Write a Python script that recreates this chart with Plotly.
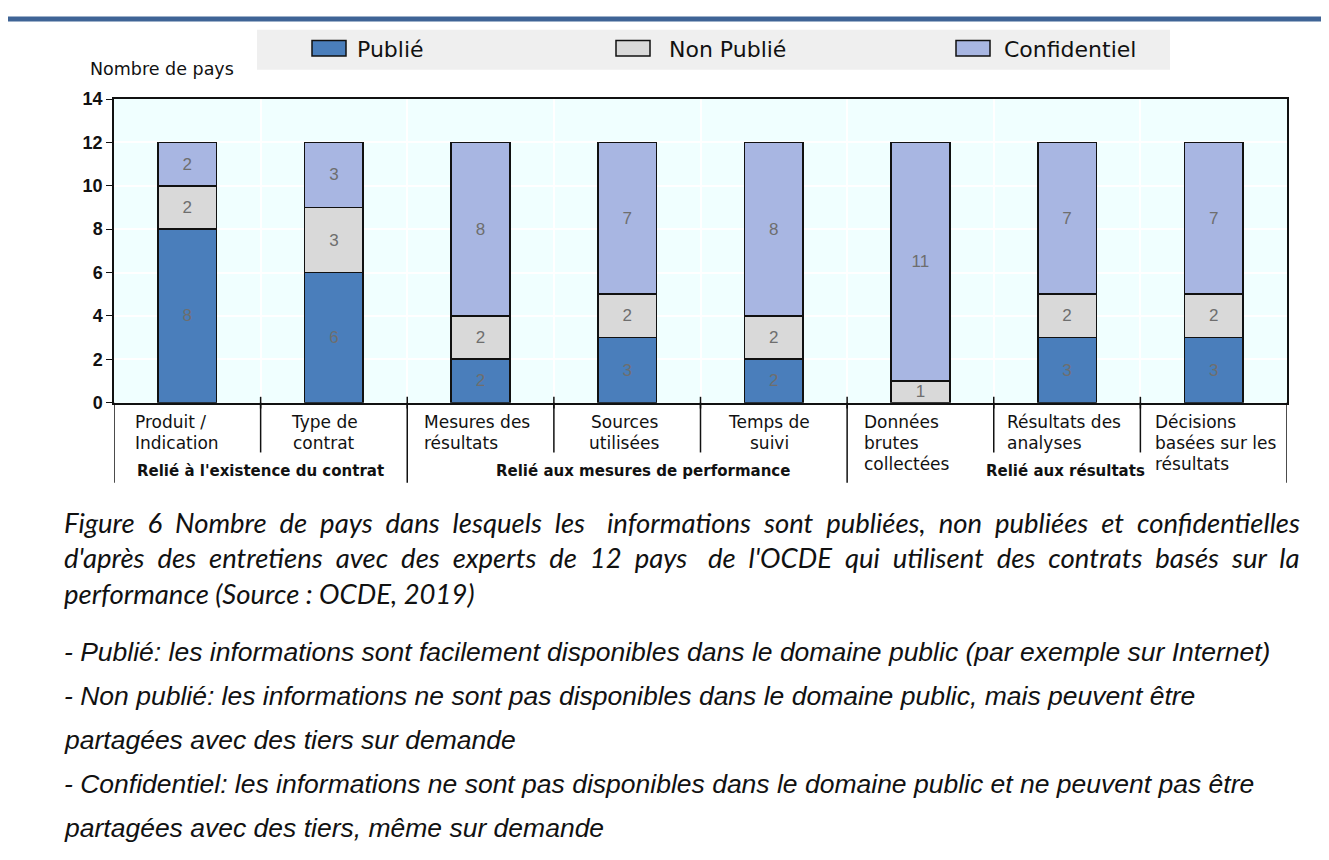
import plotly.graph_objects as go

# The page adds an 8px body margin, so the figure is sized to fit the window exactly
W, H = 1313, 844
OFF = 8

categories = ["Produit / Indication", "Type de contrat", "Mesures des résultats",
              "Sources utilisées", "Temps de suivi", "Données brutes collectées",
              "Résultats des analyses", "Décisions basées sur les résultats"]
publie = [8, 6, 2, 3, 2, 0, 3, 3]
non_publie = [2, 3, 2, 2, 2, 1, 2, 2]
confidentiel = [2, 3, 8, 7, 8, 11, 7, 7]
series_names = ["Publié", "Non Publié", "Confidentiel"]
series_colors = ["#4A7EBB", "#D9D9D9", "#A8B6E2"]
y_ticks = [0, 2, 4, 6, 8, 10, 12, 14]

# category label lines (as displayed), alignment, pixel anchor
cat_lines = [
    (["Produit /", "Indication"], "left", 133),
    (["Type de", "contrat"], "center", 324),
    (["Mesures des", "résultats"], "left", 422),
    (["Sources", "utilisées"], "center", 624),
    (["Temps de", "suivi"], "center", 769),
    (["Données", "brutes", "collectées"], "left", 862),
    (["Résultats des", "analyses"], "left", 1005),
    (["Décisions", "basées sur les", "résultats"], "left", 1153),
]
groups = [("Relié à l'existence du contrat", 260),
          ("Relié aux mesures de performance", 643),
          ("Relié aux résultats", 1065)]
group_bounds = [-0.5, 1.5, 4.5, 7.5]

caption_justified = [
    ("Figure 6 Nombre de pays dans lesquels les informations sont publiées, non publiées et confidentielles", 8, [1]),
    ("d'après des entretiens avec des experts de 12 pays de l'OCDE qui utilisent des contrats basés sur la", 9, [1]),
]
caption_last = "performance (Source : OCDE, 2019)"
notes = ["- Publié: les informations sont facilement disponibles dans le domaine public (par exemple sur Internet)",
         "- Non publié: les informations ne sont pas disponibles dans le domaine public, mais peuvent être",
         "partagées avec des tiers sur demande",
         "- Confidentiel: les informations ne sont pas disponibles dans le domaine public et ne peuvent pas être",
         "partagées avec des tiers, même sur demande"]


def X(x):
    return (x - OFF) / W


def Y(y):
    return 1 - (y - OFF) / H


PL, PR, PT, PB = 114, 1287, 91, 402
CHART_FONT = "DejaVu Sans"
INK = "#111111"

fig = go.Figure()
for name, vals, col in zip(series_names, [publie, non_publie, confidentiel], series_colors):
    fig.add_trace(go.Bar(
        x=list(range(len(categories))), y=vals, name=name,
        marker=dict(color=col, line=dict(color=INK, width=1.6)),
        width=0.40,
        text=[str(v) if v > 0 else "" for v in vals],
        textposition="inside", insidetextanchor="middle", textangle=0,
        constraintext="none",
        textfont=dict(family="Liberation Sans", size=17, color="#6E6E6E"),
        hovertext=categories,
    ))

fig.update_layout(
    width=W, height=H, barmode="stack", showlegend=False,
    margin=dict(l=0, r=0, t=0, b=0),
    paper_bgcolor="white", plot_bgcolor="#F0FFFF",
    xaxis=dict(domain=[X(PL), X(PR)], range=[-0.5, 7.5],
               tickmode="array", tickvals=[i + 0.5 for i in range(7)], ticktext=[""] * 7,
               showgrid=True, gridcolor="white", gridwidth=1.5,
               showline=True, linecolor=INK, linewidth=1.5, mirror=True,
               ticks="", zeroline=False),
    yaxis=dict(domain=[Y(PB), Y(PT)], range=[0, 14],
               tickvals=y_ticks, ticks="outside", ticklen=6, tickcolor=INK, tickwidth=1.3,
               tickfont=dict(family="Liberation Sans", size=18, color=INK, weight="bold"),
               showgrid=True, gridcolor="white", gridwidth=1.5,
               showline=True, linecolor=INK, linewidth=1.5, mirror=True,
               zeroline=False),
)

shapes = []
ann = []

# page frame
shapes.append(dict(type="rect", xref="paper", yref="paper", x0=X(3), x1=1.05, y0=-0.05, y1=Y(9),
                   line=dict(color="#3F6496", width=5), fillcolor="rgba(0,0,0,0)", layer="below"))

# legend
shapes.append(dict(type="rect", xref="paper", yref="paper", x0=X(257), x1=X(1170), y0=Y(61), y1=Y(20),
                   fillcolor="#EFEFEF", line=dict(width=0), layer="below"))
leg_swatch = [312, 616, 956]
leg_text = [355, 667, 1002]
for name, col, sx, tx in zip(series_names, series_colors, leg_swatch, leg_text):
    shapes.append(dict(type="rect", xref="paper", yref="paper", x0=X(sx), x1=X(sx + 34),
                       y0=Y(47), y1=Y(31), fillcolor=col, line=dict(color=INK, width=1.5)))
    ann.append(dict(text=name, xref="paper", yref="paper", x=X(tx), y=Y(40),
                    xanchor="left", yanchor="middle", showarrow=False,
                    font=dict(family=CHART_FONT, size=22, color=INK)))

# axis title
ann.append(dict(text="Nombre de pays", xref="paper", yref="paper", x=X(88), y=Y(60),
                xanchor="left", yanchor="middle", showarrow=False,
                font=dict(family=CHART_FONT, size=17.5, color=INK)))

# x tick marks crossing the axis, and separators below the axis
for i in range(len(categories) - 1):
    b = i + 0.5
    shapes.append(dict(type="line", xref="x", yref="paper", x0=b, x1=b, y0=Y(408), y1=Y(396),
                       line=dict(color=INK, width=1.5)))
for b in [i + 0.5 for i in range(-1, len(categories))]:
    bottom = 484 if b in group_bounds else 453
    shapes.append(dict(type="line", xref="x", yref="paper", x0=b, x1=b, y0=Y(bottom), y1=Y(PB),
                       line=dict(color=INK, width=1.5)))

# category labels
for lines, align, ax in cat_lines:
    for j, t in enumerate(lines):
        ann.append(dict(text=t, xref="paper", yref="paper", x=X(ax), y=Y(422 + 21.5 * j),
                        xanchor="left" if align == "left" else "center", yanchor="middle",
                        showarrow=False, font=dict(family=CHART_FONT, size=17, color=INK)))
for t, gx in groups:
    ann.append(dict(text="<b>" + t + "</b>", xref="paper", yref="paper", x=X(gx), y=Y(472),
                    xanchor="center", yanchor="middle", showarrow=False,
                    font=dict(family=CHART_FONT, size=15, color=INK)))


# caption (justified lines split into a left-anchored and a right-anchored half)
def join_words(words, pattern):
    out = words[0]
    for k, w in enumerate(words[1:]):
        out += " " + "\u00a0" * pattern[k % len(pattern)] + w
    return out


CAP_FONT = dict(family="Lato", size=27.5, color=INK)
for j, (line, split, pattern) in enumerate(caption_justified):
    words = line.split(" ")
    left = join_words(words[:split], pattern)
    right = join_words(words[split:], pattern)
    yy = Y(525 + 36 * j)
    ann.append(dict(text="<i>" + left + "</i>", xref="paper", yref="paper", x=X(62), y=yy,
                    xanchor="left", yanchor="middle", showarrow=False, font=CAP_FONT))
    ann.append(dict(text="<i>" + right + "</i>", xref="paper", yref="paper", x=X(1302), y=yy,
                    xanchor="right", yanchor="middle", showarrow=False, font=CAP_FONT))
ann.append(dict(text="<i>" + caption_last + "</i>", xref="paper", yref="paper", x=X(62), y=Y(597),
                xanchor="left", yanchor="middle", showarrow=False, font=CAP_FONT))

for j, t in enumerate(notes):
    ann.append(dict(text="<i>" + t + "</i>", xref="paper", yref="paper", x=X(62), y=Y(657 + 45.2 * j),
                    xanchor="left", yanchor="middle", showarrow=False,
                    font=dict(family="Liberation Sans", size=26.5, color=INK)))

fig.update_layout(shapes=shapes, annotations=ann)
fig.write_html("out.html")
